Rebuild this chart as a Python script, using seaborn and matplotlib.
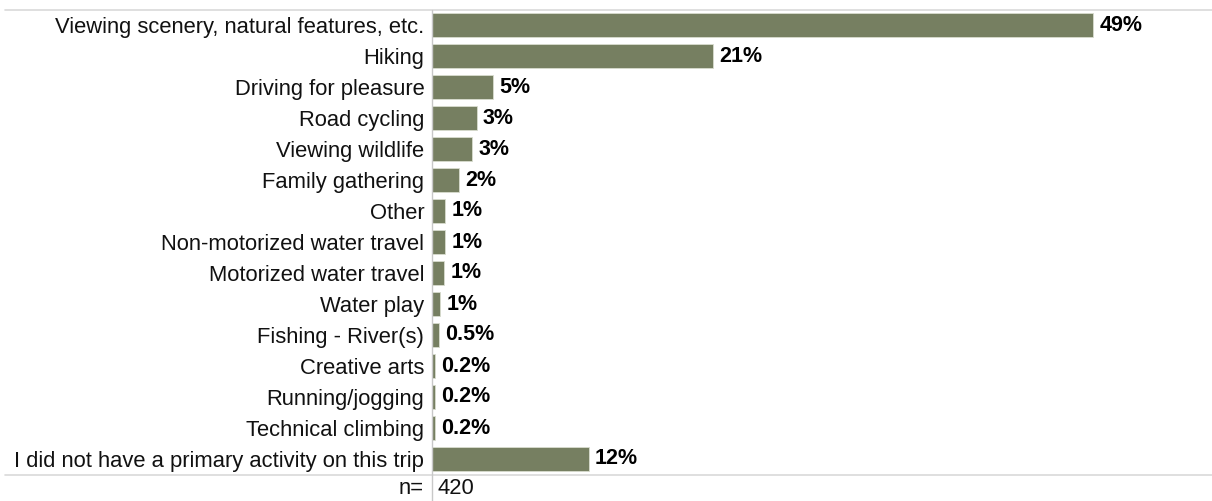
import matplotlib
matplotlib.use("Agg")
import matplotlib.pyplot as plt
from matplotlib.lines import Line2D
import seaborn as sns
import pandas as pd

categories = [
    "Viewing scenery, natural features, etc.",
    "Hiking",
    "Driving for pleasure",
    "Road cycling",
    "Viewing wildlife",
    "Family gathering",
    "Other",
    "Non-motorized water travel",
    "Motorized water travel",
    "Water play",
    "Fishing - River(s)",
    "Creative arts",
    "Running/jogging",
    "Technical climbing",
    "I did not have a primary activity on this trip",
]
values = [49.0, 20.8, 4.5, 3.3, 3.0, 2.0, 1.0, 1.0, 0.9, 0.6, 0.5, 0.2, 0.2, 0.2, 11.6]
value_labels = ["49%", "21%", "5%", "3%", "3%", "2%", "1%", "1%", "1%", "1%",
                "0.5%", "0.2%", "0.2%", "0.2%", "12%"]
n_label = "n="
n_value = "420"

sns.set_theme(style="white")
plt.rcParams["font.family"] = ["Liberation Sans", "DejaVu Sans"]

FS = 15.8
FS_VAL = 15.5
W, H = 1212, 501
fig = plt.figure(figsize=(W / 100, H / 100), dpi=100)
left_px, right_px, top_px, bot_px = 432, 1212, 9.5, 474.5
ax = fig.add_axes([left_px / W, 1 - bot_px / H, (right_px - left_px) / W, (bot_px - top_px) / H])

df = pd.DataFrame({"cat": categories, "val": values})
bar_color = "#767f61"
sns.barplot(data=df, x="val", y="cat", orient="h", color=bar_color, saturation=1,
            width=0.77, edgecolor="#d8dccf", linewidth=0.6, ax=ax)

ax.set_xlim(0, 57.8)
ax.set_ylim(len(categories) - 0.5, -0.5)
ax.set_xlabel("")
ax.set_ylabel("")
ax.set_xticks([])
ax.tick_params(axis="y", length=0, pad=5.5, labelsize=FS, labelcolor="#111111")
for s in ["top", "right", "bottom", "left"]:
    ax.spines[s].set_visible(False)

for i, (v, lab) in enumerate(zip(values, value_labels)):
    ax.annotate(lab, xy=(v, i), xytext=(4.5, 0), textcoords="offset points",
                ha="left", va="center", fontsize=FS_VAL, fontweight="bold", color="#000000")

# Frame lines
line_col = "#d9d9d9"
fig.add_artist(Line2D([5 / W, 1], [1 - top_px / H] * 2, transform=fig.transFigure,
                      color=line_col, lw=1.2))
fig.add_artist(Line2D([5 / W, 1], [1 - bot_px / H] * 2, transform=fig.transFigure,
                      color=line_col, lw=1.2))
fig.add_artist(Line2D([left_px / W] * 2, [0, 1 - top_px / H], transform=fig.transFigure,
                      color="#c8c8c8", lw=1.0))

fig.text(424 / W, 1 - 489 / H, n_label, ha="right", va="center", fontsize=FS, color="#111111")
fig.text(437 / W, 1 - 489 / H, n_value, ha="left", va="center", fontsize=FS, color="#111111")

fig.savefig("out.png", dpi=100)
